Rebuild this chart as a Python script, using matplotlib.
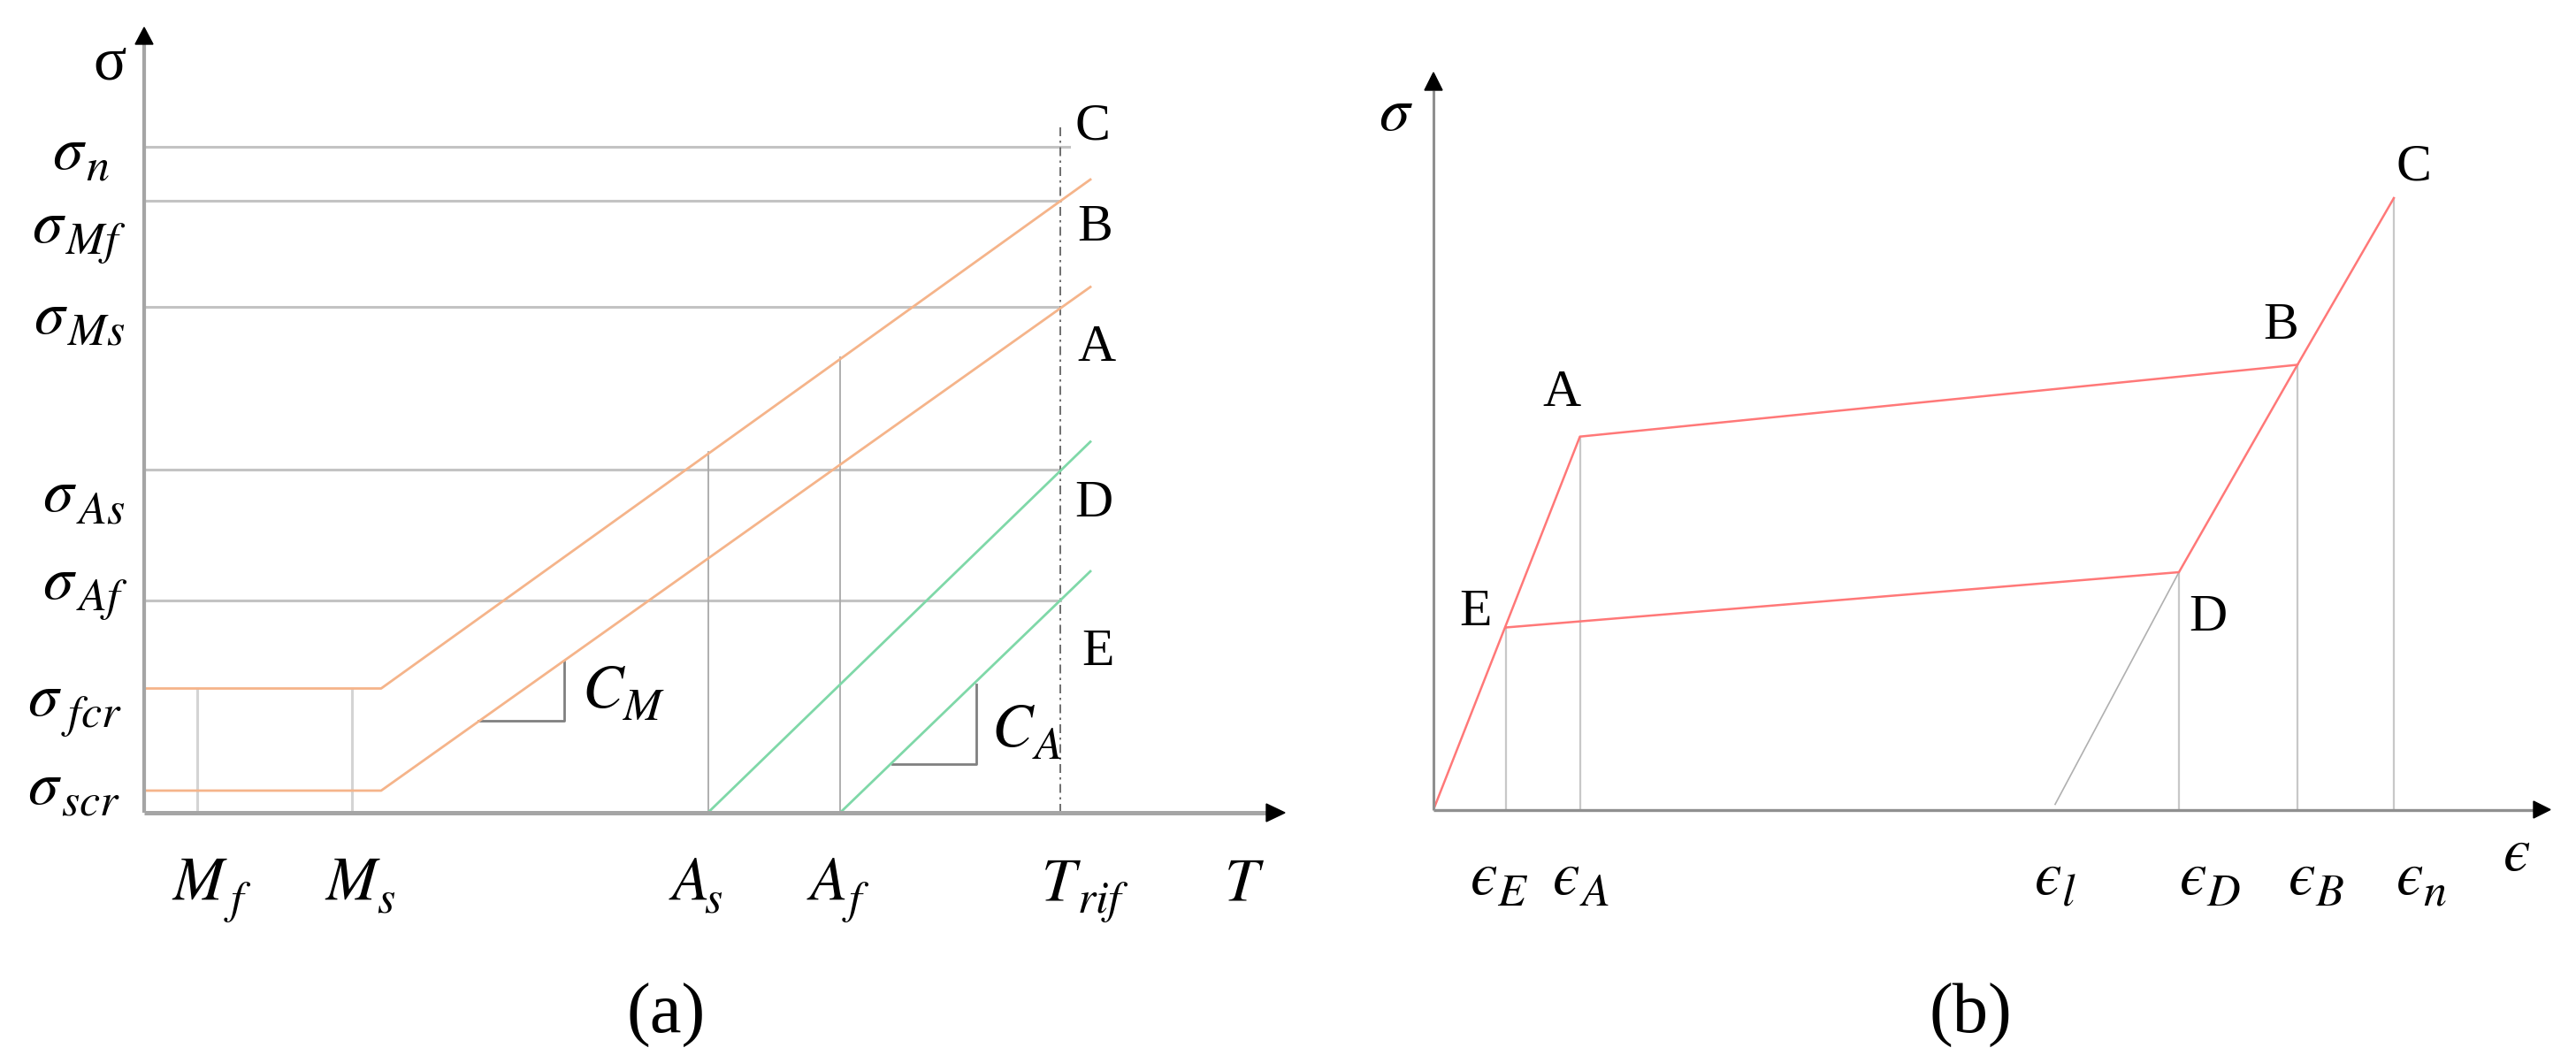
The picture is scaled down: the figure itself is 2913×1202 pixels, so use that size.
import matplotlib
matplotlib.use('Agg')
import matplotlib.pyplot as plt
from matplotlib.patches import Polygon
from matplotlib.transforms import IdentityTransform

plt.rcParams['mathtext.fontset'] = 'stix'
plt.rcParams['font.family'] = ['Liberation Serif', 'DejaVu Serif']

# ---------------- data: panel (a) stress-temperature ----------------
sig_subs = ['n', 'Mf', 'Ms', 'As', 'Af', 'fcr', 'scr']
sig_n, sig_Mf, sig_Ms, sig_As, sig_Af, sig_fcr, sig_scr = 75.3, 69.2, 57.2, 38.8, 24.0, 14.05, 2.5
T_mains = ['M', 'M', 'A', 'A', 'T', 'T']
T_subs = ['f', 's', 's', 'f', 'rif', '']
T_Mf, T_Ms, T_As, T_Af, T_rif = 6.0, 23.5, 63.75, 78.7, 103.6
T_corner, T_end = 26.8, 107.0

upper_M_T = [0, T_corner, T_end]
upper_M_s = [sig_fcr, sig_fcr, 71.6]
lower_M_T = [0, T_corner, T_end]
lower_M_s = [sig_scr, sig_scr, 59.45]
green_D_T = [T_As, T_end]
green_D_s = [0, 41.95]
green_E_T = [T_Af, T_end]
green_E_s = [0, 27.3]
vert_tops = [sig_fcr, sig_fcr, 40.8, 51.5]   # M_f, M_s, A_s, A_f
point_labels_a = ['C', 'B', 'A', 'D', 'E']

# ---------------- data: panel (b) stress-strain ----------------
eps_subs = ['E', 'A', 'l', 'D', 'B', 'n']
pO = (0.0, 0.0)
pA = (16.56, 42.18)
pB = (97.7, 50.3)
pC = (108.6, 69.15)
pE = (8.2, 20.6)
pD = (84.3, 26.85)
eps_l = 70.3
point_labels_b = ['A', 'B', 'C', 'E', 'D']

W, H = 2913, 1202
fig = plt.figure(figsize=(W / 100, H / 100), dpi=100)
renderer = fig.canvas.get_renderer()


def add_axes_px(x0, y_top, x1, y_bot):
    ax = fig.add_axes([x0 / W, 1 - y_bot / H, (x1 - x0) / W, (y_bot - y_top) / H])
    ax.set_xlim(0, (x1 - x0) / 10)
    ax.set_ylim(0, (y_bot - y_top) / 10)
    ax.axis('off')
    return ax


MATH_FS = 50
LET_FS = 43


def sublabel(ax, x, y, main, sub, fs=MATH_FS, scale=0.75, drop=14, gap=1):
    t = ax.text(x, y, '$' + main + '$', fontsize=fs, ha='left', va='baseline', clip_on=False)
    if sub:
        bb = t.get_window_extent(renderer)
        xb, yb = ax.transData.transform((x, y))
        fig.text(bb.x1 + gap, yb - drop, '$' + sub + '$', fontsize=fs * scale,
                 ha='left', va='baseline', transform=IdentityTransform())


GRAY_H = '#c3c3c3'
ORANGE = '#f5b48a'
GREEN = '#7fd8a8'
RED = '#ff7878'

# ======================= panel (a) =======================
axL = add_axes_px(163, 31, 1453, 919)
xmaxL, ymaxL = axL.get_xlim()[1], axL.get_ylim()[1]

axL.plot([0, 104.6], [sig_n, sig_n], color=GRAY_H, lw=2.2, zorder=2)
for s in [sig_Mf, sig_Ms, sig_As, sig_Af]:
    axL.plot([0, T_rif], [s, s], color=GRAY_H, lw=2.2, zorder=2)

axL.plot([T_Mf, T_Mf], [0, vert_tops[0]], color='#d4d4d4', lw=2.2, zorder=2)
axL.plot([T_Ms, T_Ms], [0, vert_tops[1]], color='#d4d4d4', lw=2.2, zorder=2)
axL.plot([T_As, T_As], [0, vert_tops[2]], color='#a8a8a8', lw=1.3, zorder=2)
axL.plot([T_Af, T_Af], [0, vert_tops[3]], color='#a8a8a8', lw=1.3, zorder=2)

axL.plot([T_rif, T_rif], [0, 77.7], color='#555555', lw=1.2, ls=(0, (6, 3, 1.5, 3)), zorder=3)

axL.plot(upper_M_T, upper_M_s, color=ORANGE, lw=2.0, zorder=4)
axL.plot(lower_M_T, lower_M_s, color=ORANGE, lw=2.0, zorder=4)
axL.plot(green_D_T, green_D_s, color=GREEN, lw=2.0, zorder=4)
axL.plot(green_E_T, green_E_s, color=GREEN, lw=2.0, zorder=4)

axL.plot([37.8, 47.5, 47.5], [10.4, 10.4, 17.1], color='#808080', lw=2.0, zorder=3)
axL.plot([84.6, 94.1, 94.1], [5.5, 5.5, 14.5], color='#808080', lw=2.0, zorder=3)
sublabel(axL, 49.5, 11.9, 'C', 'M', gap=-4)
sublabel(axL, 95.8, 7.5, 'C', 'A', gap=-4)

axL.plot([0, xmaxL - 2.0], [0, 0], color='#a5a5a5', lw=3.6, zorder=5, clip_on=False, solid_capstyle='butt')
axL.plot([0, 0], [0, ymaxL - 1.9], color='#a5a5a5', lw=3.0, zorder=5, clip_on=False, solid_capstyle='butt')
axL.add_patch(Polygon([[0, ymaxL], [-1.0, ymaxL - 1.9], [1.0, ymaxL - 1.9]], closed=True,
                      color='black', zorder=6, clip_on=False))
axL.add_patch(Polygon([[xmaxL, 0], [xmaxL - 2.1, 1.0], [xmaxL - 2.1, -1.0]], closed=True,
                      color='black', zorder=6, clip_on=False))

axL.text(-5.8, 82.9, 'σ', fontsize=MATH_FS, ha='left', va='baseline')

sig_label_base = [72.8, 64.5, 54.2, 34.1, 24.2, 11.0, 1.0]
sig_label_left = [-10.4, -12.7, -12.5, -11.5, -11.5, -13.2, -13.2]
for sub, yb, xl in zip(sig_subs, sig_label_base, sig_label_left):
    sublabel(axL, xl, yb, r'\sigma', sub, drop=13, gap=-1)

T_label_left = [3.1, 20.4, 59.3, 74.9, 101.4, 122.1]
for main, sub, xl in zip(T_mains, T_subs, T_label_left):
    sublabel(axL, xl, -9.8, main, sub, drop=15, gap=-5)

pa_pos = [(105.2, 76.2), (105.5, 64.7), (105.5, 51.1), (105.2, 33.5), (106.0, 16.7)]
for lab, (x, y) in zip(point_labels_a, pa_pos):
    axL.text(x, y, lab, fontsize=LET_FS, ha='left', va='baseline')

# ======================= panel (b) =======================
axR = add_axes_px(1621, 82, 2884, 915.5)
xmaxR, ymaxR = axR.get_xlim()[1], axR.get_ylim()[1]

GRAY_V = '#c8c8c8'
for p in [pE, pA, pD, pB, pC]:
    axR.plot([p[0], p[0]], [0, p[1]], color=GRAY_V, lw=1.6, zorder=2)

axR.plot([eps_l, pD[0]], [0.6, pD[1]], color='#b0b0b0', lw=1.2, zorder=2)

axR.plot([pO[0], pA[0], pB[0], pC[0]], [pO[1], pA[1], pB[1], pC[1]], color=RED, lw=1.8, zorder=4)
axR.plot([pE[0], pD[0], pB[0]], [pE[1], pD[1], pB[1]], color=RED, lw=1.8, zorder=4)

axR.plot([0, xmaxR - 1.8], [0, 0], color='#8f8f8f', lw=2.4, zorder=5, clip_on=False, solid_capstyle='butt')
axR.plot([0, 0], [0, ymaxR - 2.0], color='#8f8f8f', lw=2.2, zorder=5, clip_on=False, solid_capstyle='butt')
axR.add_patch(Polygon([[0, ymaxR], [-1.0, ymaxR - 2.0], [1.0, ymaxR - 2.0]], closed=True,
                      color='black', zorder=6, clip_on=False))
axR.add_patch(Polygon([[xmaxR, 0], [xmaxR - 1.9, 0.95], [xmaxR - 1.9, -0.95]], closed=True,
                      color='black', zorder=6, clip_on=False))

axR.text(-6.2, 76.85, r'$\sigma$', fontsize=MATH_FS, ha='left', va='baseline', clip_on=False)
axR.text(120.9, -6.85, '$\u03f5$', fontsize=MATH_FS, ha='left', va='baseline', clip_on=False)

eps_label_left = [4.1, 13.4, 67.9, 84.3, 96.6, 108.8]
for sub, xl in zip(eps_subs, eps_label_left):
    sublabel(axR, xl, -9.55, '\u03f5', sub, drop=13, gap=0)

pb_pos = [(12.3, 45.65), (93.8, 53.25), (108.8, 71.25), (2.9, 20.85), (85.4, 20.25)]
for lab, (x, y) in zip(point_labels_b, pb_pos):
    axR.text(x, y, lab, fontsize=LET_FS, ha='left', va='baseline')

fig.text(753 / W, 1 - 1168 / H, '(a)', fontsize=58, ha='center', va='baseline')
fig.text(2228 / W, 1 - 1168 / H, '(b)', fontsize=58, ha='center', va='baseline')

fig.savefig('out.png', dpi=100, facecolor='white')
